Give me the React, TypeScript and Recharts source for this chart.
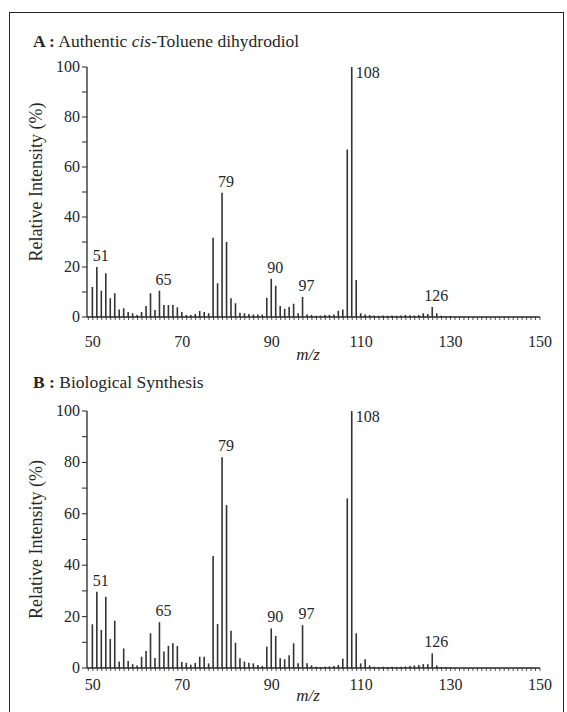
import { BarChart, Bar, XAxis, YAxis, LabelList } from "recharts"

// m/z values (one bar per integer mass)
const mz = [
  50, 51, 52, 53, 54, 55, 56, 57, 58, 59,
  60, 61, 62, 63, 64, 65, 66, 67, 68, 69,
  70, 71, 72, 73, 74, 75, 76, 77, 78, 79,
  80, 81, 82, 83, 84, 85, 86, 87, 88, 89,
  90, 91, 92, 93, 94, 95, 96, 97, 98, 99,
  100, 101, 102, 103, 104, 105, 106, 107, 108, 109,
  110, 111, 112, 113, 114, 115, 116, 117, 118, 119,
  120, 121, 122, 123, 124, 125, 126, 127, 128, 129,
  130,
]

// A : authentic cis-toluene dihydrodiol
const intensityA = [
  12, 20, 10.5, 17.5, 7.5, 9.5, 3, 3.5, 2, 1.5,
  0.8, 2, 4.4, 9.5, 2.8, 10.5, 4.8, 4.8, 4.8, 3.9,
  2, 0.8, 0.8, 1.2, 2.4, 2, 1.5, 31.7, 13.5, 49.7,
  30, 7.5, 5.5, 1.7, 1.5, 1.2, 1, 1, 1, 7.7,
  15.3, 12.5, 4.4, 3.3, 4, 5.3, 1.5, 8, 1, 0.8,
  0.5, 0.6, 0.8, 0.8, 1, 2.5, 3, 67, 100, 14.8,
  1.5, 1, 0.8, 0.6, 0.5, 0.6, 0.5, 0.6, 0.5, 0.6,
  0.8, 0.7, 0.6, 0.8, 1.5, 1.2, 4, 1.5, 0.5, 0.4,
  0.4,
]

// B : biological synthesis
const intensityB = [
  17, 29.7, 14.8, 27.7, 11.3, 18.4, 2.5, 7.6, 2.7, 1.5,
  1, 4.4, 6.6, 13.5, 3.9, 17.8, 6.4, 8.6, 9.6, 8.6,
  2.3, 2, 1.3, 2, 4.4, 4.4, 1.8, 43.6, 17.1, 82,
  63.4, 14.5, 9.8, 3.8, 2.5, 2, 1.8, 1.2, 0.8, 8.3,
  15.4, 12.5, 3.8, 3.4, 5, 9.6, 1.8, 16.7, 1.8, 1,
  0.5, 0.4, 0.5, 0.6, 0.8, 1.2, 3.6, 66, 100, 13.5,
  1.8, 3.4, 1, 0.5, 0.4, 0.5, 0.4, 0.5, 0.4, 0.5,
  0.6, 0.8, 1, 1.2, 1.5, 1.5, 5.7, 1, 0.4, 0.4,
  0.3,
]

const peaksA = [51, 65, 79, 90, 97, 108, 126]
const peaksB = [51, 65, 79, 90, 97, 108, 126]
const basePeak = 108

const xTicks = Array.from({ length: 102 }, (_, i) => 49 + i)
const xTickLabels = [50, 70, 90, 110, 130, 150]
const yTicks = [0, 10, 20, 30, 40, 50, 60, 70, 80, 90, 100]
const yTickLabels = [0, 20, 40, 60, 80, 100]

const SERIF = '"Liberation Serif", "DejaVu Serif", serif'
const INK = "#262626"
const BAR = "#333333"

const XTick = (props: any) => {
  const { x, y, payload, dy } = props
  if (!xTickLabels.includes(payload.value)) return null
  return (
    <text x={x} y={y + dy} textAnchor="middle" fontSize={16} fill={INK} fontFamily={SERIF}>
      {payload.value}
    </text>
  )
}

const YTick = (props: any) => {
  const { x, y, payload } = props
  if (!yTickLabels.includes(payload.value)) return null
  return (
    <text x={x} y={y + 5} textAnchor="end" fontSize={16} fill={INK} fontFamily={SERIF}>
      {payload.value}
    </text>
  )
}

function PeakLabel(props: any) {
  const { x, y, width, value, peaks } = props
  if (!peaks.includes(value)) return null
  const cx = x + width / 2
  if (value === basePeak) {
    return (
      <text x={cx + 4} y={y + 11} fontSize={16} fill={INK} fontFamily={SERIF}>
        {value}
      </text>
    )
  }
  return (
    <text x={cx + 4} y={y - 6} textAnchor="middle" fontSize={16} fill={INK} fontFamily={SERIF}>
      {value}
    </text>
  )
}

interface SpectrumProps {
  values: number[]
  peaks: number[]
  top: number
  height: number
  marginTop: number
  marginBottom: number
  tickDy: number
  mzDy: number
  yLabelShift: number
}

function Spectrum({ values, peaks, top, height, marginTop, marginBottom, tickDy, mzDy, yLabelShift }: SpectrumProps) {
  const data = mz.map((m, i) => ({ mz: m, intensity: values[i] }))
  return (
    <div style={{ position: "absolute", left: 0, top }}>
      <BarChart
        width={567}
        height={height}
        data={data}
        margin={{ top: marginTop, right: 27, bottom: marginBottom, left: 30 }}
      >
        <XAxis
          dataKey="mz"
          type="number"
          domain={[48.7, 150]}
          ticks={xTicks}
          interval={0}
          tickSize={3}
          height={30}
          axisLine={{ stroke: INK, strokeWidth: 1.3 }}
          tickLine={{ stroke: INK, strokeWidth: 0.8 }}
          tick={<XTick dy={tickDy} />}
          label={{
            content: (p: any) => {
              const vb = p.viewBox || { x: 87, y: 0, width: 453 }
              return (
                <text x={308} y={vb.y + mzDy} textAnchor="middle" fontSize={17} fontStyle="italic" fill={INK} fontFamily={SERIF}>
                  m/z
                </text>
              )
            },
          }}
        />
        <YAxis
          type="number"
          domain={[0, 100]}
          ticks={yTicks}
          interval={0}
          tickSize={5}
          width={57}
          axisLine={{ stroke: INK, strokeWidth: 1.3 }}
          tickLine={{ stroke: INK, strokeWidth: 1 }}
          tick={<YTick />}
          label={{
            content: (p: any) => {
              const vb = p.viewBox || { x: 30, y: marginTop, height: 250 }
              const cx = 36
              const cy = vb.y + vb.height / 2 + yLabelShift
              return (
                <text
                  x={cx}
                  y={cy}
                  transform={`rotate(-90, ${cx}, ${cy})`}
                  textAnchor="middle"
                  dominantBaseline="central"
                  fontSize={18}
                  fill={INK}
                  fontFamily={SERIF}
                >
                  Relative Intensity (%)
                </text>
              )
            },
          }}
        />
        <Bar dataKey="intensity" fill={BAR} barSize={1.6} isAnimationActive={false}>
          <LabelList dataKey="mz" content={(p: any) => <PeakLabel {...p} peaks={peaks} />} />
        </Bar>
      </BarChart>
    </div>
  )
}

const titleStyle: any = {
  position: "absolute",
  left: 33,
  fontFamily: SERIF,
  fontSize: 17.5,
  lineHeight: "17px",
  color: INK,
  whiteSpace: "nowrap",
}

export default function App() {
  return (
    <div
      style={{
        position: "absolute",
        left: 0,
        top: 0,
        width: 567,
        height: 712,
        overflow: "hidden",
        background: "#fff",
      }}
    >
      <div
        style={{
          position: "absolute",
          left: 9,
          top: 12,
          width: 555,
          height: 740,
          border: `1.6px solid ${INK}`,
          boxSizing: "border-box",
        }}
      />
      <div style={{ ...titleStyle, top: 33 }}>
        <b>A :</b> Authentic <i>cis</i>-Toluene dihydrodiol
      </div>
      <div style={{ ...titleStyle, top: 374 }}>
        <b>B :</b> Biological Synthesis
      </div>
      <Spectrum
        values={intensityA}
        peaks={peaksA}
        top={0}
        height={370}
        marginTop={67}
        marginBottom={23}
        tickDy={25}
        mzDy={43}
        yLabelShift={-10}
      />
      <Spectrum
        values={intensityB}
        peaks={peaksB}
        top={360}
        height={352}
        marginTop={51}
        marginBottom={14}
        tickDy={17}
        mzDy={33}
        yLabelShift={0}
      />
    </div>
  )
}
